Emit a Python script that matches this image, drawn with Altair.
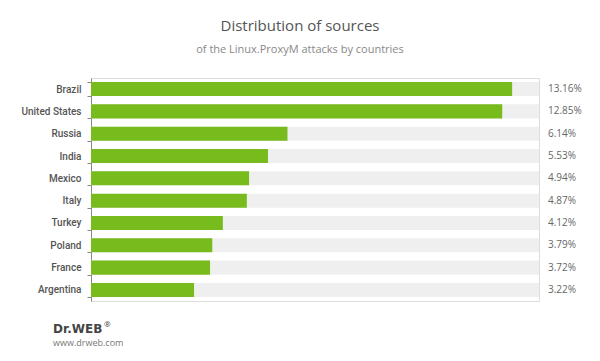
import altair as alt
import pandas as pd

countries = ["Brazil", "United States", "Russia", "India", "Mexico", "Italy",
             "Turkey", "Poland", "France", "Argentina"]
shares = [13.16, 12.85, 6.14, 5.53, 4.94, 4.87, 4.12, 3.79, 3.72, 3.22]
labels = ["13.16%", "12.85%", "6.14%", "5.53%", "4.94%", "4.87%",
          "4.12%", "3.79%", "3.72%", "3.22%"]
axis_max = 14

df = pd.DataFrame({"country": countries, "share": shares, "label": labels,
                   "full": [axis_max] * len(countries)})

FONT = "Open Sans"

y = alt.Y("country:N", sort=countries, title=None,
          scale=alt.Scale(paddingInner=0.37, paddingOuter=0.18),
          axis=alt.Axis(tickBand="extent", domainColor="#888", tickColor="#888",
                        tickSize=4, labelFont="Roboto", labelFontSize=10,
                        labelFontWeight=500, labelColor="#555", labelPadding=6))
xs = alt.Scale(domain=[0, axis_max], nice=False)

base = alt.Chart(df)

bg = base.mark_bar(color="#efefef").encode(
    x=alt.X("full:Q", scale=xs, axis=None), y=y)
bars = base.mark_bar(color="#77bb1c").encode(
    x=alt.X("share:Q", scale=xs, axis=None), y=y)
txt = base.mark_text(align="left", baseline="middle", font=FONT, fontSize=10,
                     color="#666").encode(
    x=alt.value(457), y=y, text="label:N")

logo_df = pd.DataFrame({"t": ["Dr.WEB"]})
reg_df = pd.DataFrame({"t": ["®"]})
url_df = pd.DataFrame({"t": ["www.drweb.com"]})
logo = alt.Chart(logo_df).mark_text(align="left", baseline="middle",
                                    font="DejaVu Sans", fontSize=12,
                                    fontWeight="bold", color="#444").encode(
    x=alt.value(-38), y=alt.value(251), text="t:N")
reg = alt.Chart(reg_df).mark_text(align="left", baseline="middle", font=FONT,
                                  fontSize=8, color="#444").encode(
    x=alt.value(13), y=alt.value(247), text="t:N")
url = alt.Chart(url_df).mark_text(align="left", baseline="middle", font=FONT,
                                  fontSize=9, color="#777").encode(
    x=alt.value(-38), y=alt.value(265), text="t:N")

chart = alt.layer(bg, bars, txt, logo, reg, url).properties(
    width=448, height=223,
    autosize=alt.AutoSizeParams(type="none"),
    padding={"left": 83, "top": 70, "right": 45, "bottom": 52},
    title=alt.TitleParams("Distribution of sources",
                          subtitle="of the Linux.ProxyM attacks by countries",
                          anchor="middle", dx=-15, font=FONT, fontSize=15,
                          fontWeight="normal", color="#555",
                          subtitleFont=FONT, subtitleFontSize=11,
                          subtitleColor="#888", subtitlePadding=10, offset=18),
).configure_view(stroke=None).configure(background="white")

chart.save("out.html", embed_options={"renderer": "svg", "actions": False})
